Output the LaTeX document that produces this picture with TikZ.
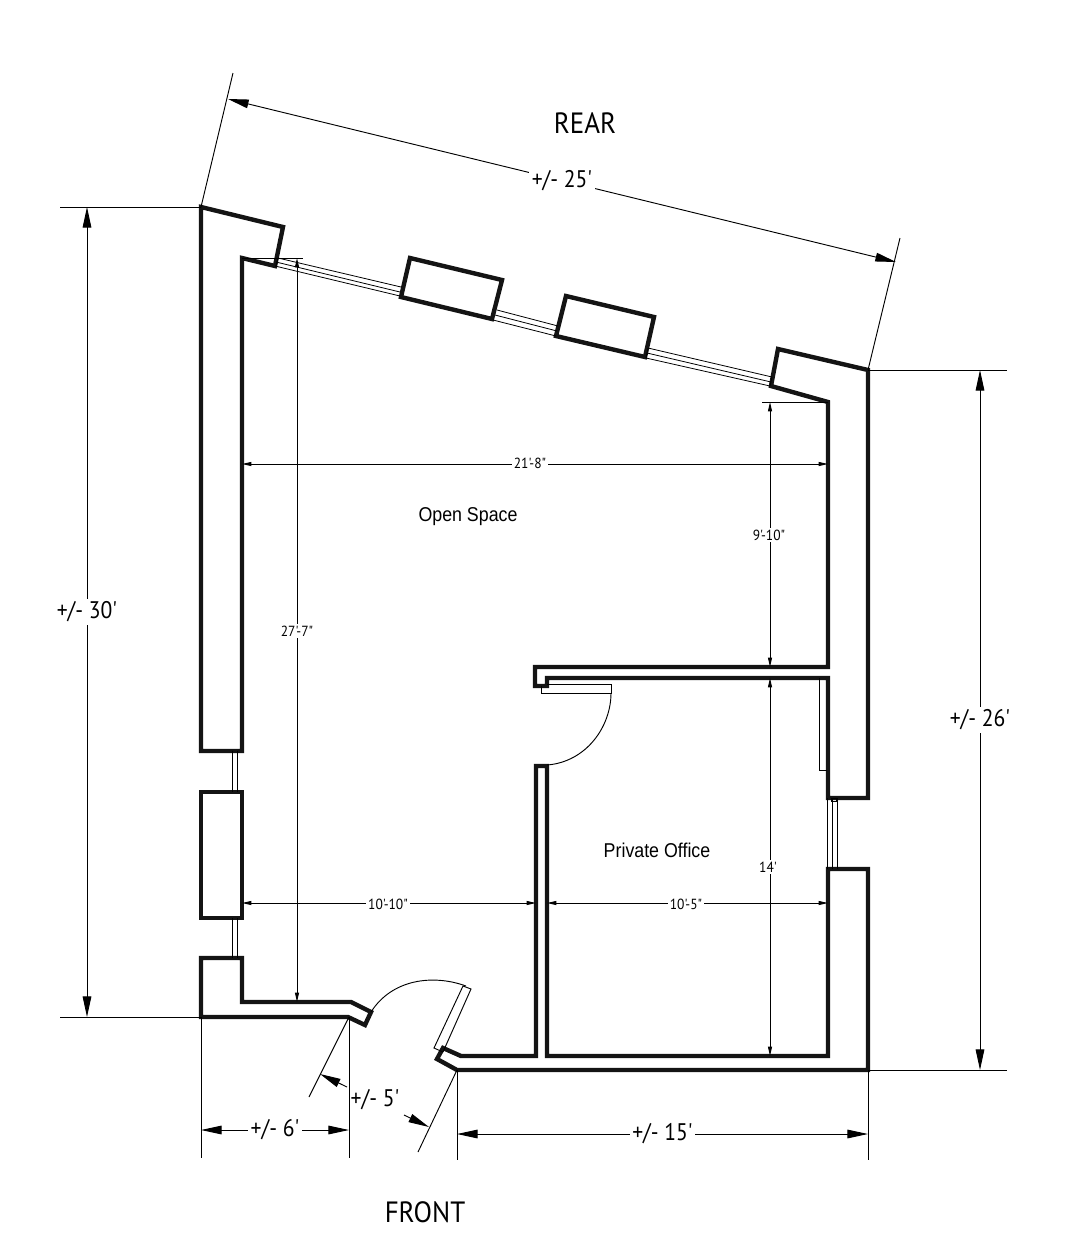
\documentclass[tikz,border=0pt]{standalone}
\usepackage{fontspec}
\setmainfont{Liberation Sans}
\newfontfamily\dimfont[Ligatures=ResetAll]{PT Sans}
\newfontfamily\labelfont{Liberation Sans}
\usetikzlibrary{arrows.meta}
\tikzset{
  wall/.style={line width=3.3pt,line join=miter,black!92},
  glass/.style={line width=0.6pt,black},
  thin/.style={line width=0.7pt,black},
  bigdim/.style={line width=0.7pt,{Triangle[length=15.5pt,width=6.5pt]}-{Triangle[length=15.5pt,width=6.5pt]}},
  smalldim/.style={line width=0.7pt,{Triangle[length=7pt,width=3pt]}-{Triangle[length=7pt,width=3pt]}},
  bigtext/.style={fill=white,inner sep=2pt,xscale=0.9,font=\dimfont\fontsize{18}{21}\selectfont},
  smalltext/.style={fill=white,inner sep=1.5pt,xscale=0.92,font=\dimfont\fontsize{11}{13}\selectfont},
  sidetext/.style={inner sep=0pt,xscale=0.92,font=\dimfont\fontsize{22}{26}\selectfont},
  roomtext/.style={inner sep=0pt,xscale=0.89,font=\labelfont\fontsize{15}{18}\selectfont},
}
\begin{document}
\begin{tikzpicture}[x=0.75pt,y=-0.75pt]
\useasboundingbox (0,0) rectangle (1074,1254);
% key corners
\coordinate (rl) at (201,207);
\coordinate (rr) at (868,370);
\coordinate (bl) at (201,1017);
\coordinate (fl) at (349,1017);
\coordinate (fr) at (457,1070);
\coordinate (br) at (868,1070);
% walls
\draw[wall] (rl) -- (283,227) -- (275,266) -- (242,258) -- (242,751) -- (201,751) -- cycle;
\draw[wall] (201,792) rectangle (242,918);
\draw[wall] (201,958) -- (242,958) -- (242,1002) -- (351,1002) -- (371,1012) -- (365,1025) -- (348,1017) -- (bl) -- cycle;
\draw[wall] (410,258) -- (502,280) -- (492,319) -- (401,297) -- cycle;
\draw[wall] (566,296) -- (654,317) -- (645,357) -- (556,336) -- cycle;
\draw[wall] (778,349) -- (rr) -- (868,798) -- (828,798) -- (828,678) -- (547,678) -- (547,686) -- (535,686) -- (535,667) -- (828,667) -- (828,402) -- (771,386) -- cycle;
\draw[wall] (443,1048) -- (461,1056) -- (536,1056) -- (536,766) -- (547,766) -- (547,1056) -- (828,1056) -- (828,869) -- (868,869) -- (br) -- (fr) -- (437,1059) -- cycle;
% rear windows
\draw[glass] (278,258) -- (401,287) (276,262) -- (400,292) (275,266) -- (400,296);
\draw[glass] (278,258) -- (276,266);
\draw[glass] (497,310) -- (558,326) (495,315) -- (557,331) (493,320) -- (556,336);
\draw[glass] (648,348) -- (772,377) (647,353) -- (771,382) (646,358) -- (770,386);
\draw[glass] (648,348) -- (646,358) (772,377) -- (770,386);
% side windows
\foreach \a/\b in {751/792,918/958}{
  \draw[glass] (232,\a) -- (232,\b) (237,\a) -- (237,\b);
}
\draw[glass] (827,798) -- (827,869) (832,798) -- (832,869) (837,798) -- (837,869);
\draw[glass] (831,798) rectangle (836,801);
% private office door
\draw[thin] (541,686) -- (541,693) -- (611,693) -- (611,684) -- (547,684);
\draw[thin] (611,693) .. controls (611,727) and (586,762) .. (547,765);
% closet
\draw[thin] (819,678) -- (819,770) -- (827,770);
% front door
\draw[thin] (443,1052) -- (434,1048) -- (463,986) -- (471,989) -- (443,1052);
\draw[thin] (371,1012) .. controls (392,979) and (433,974) .. (466,986);
% extension lines
\draw[thin] (rl) -- (233,73);
\draw[thin] (rr) -- (900,238);
\draw[thin] (rl) -- (60,207);
\draw[thin] (bl) -- (60,1017);
\draw[thin] (rr) -- (1007,370);
\draw[thin] (br) -- (1007,1070);
\draw[thin] (bl) -- (201,1158);
\draw[thin] (fl) -- (349,1158);
\draw[thin] (fr) -- (457,1160);
\draw[thin] (br) -- (868,1160);
\draw[thin] (fl) -- (309,1097);
\draw[thin] (fr) -- (418,1152);
\draw[thin] (762,402) -- (828,402);
\draw[thin] (242,258) -- (303,258);
% large dimensions
\coordinate (d25a) at (228,99);   \coordinate (d25b) at (896,262);
\coordinate (d30a) at (87,207);   \coordinate (d30b) at (87,1017);
\coordinate (d26a) at (980,370);  \coordinate (d26b) at (980,1070);
\coordinate (d6a) at (201,1130);  \coordinate (d6b) at (349,1130);
\coordinate (d15a) at (457,1134); \coordinate (d15b) at (868,1134);
\draw[bigdim] (d25a) -- (d25b) node[pos=0.5,bigtext] (t25) {+/- 25'};
\draw[bigdim] (d30a) -- (d30b) node[pos=0.5,bigtext] (t30) {+/- 30'};
\draw[bigdim] (d26a) -- (d26b) node[pos=0.5,bigtext] (t26) {+/- 26'};
\draw[bigdim] (d6a) -- (d6b) node[pos=0.5,bigtext] (t6) {+/- 6'};
\draw[bigdim] (d15a) -- (d15b) node[pos=0.5,bigtext] (t15) {+/- 15'};
% +/- 5' dimension with outside arrows
\coordinate (d5a) at (320,1074); \coordinate (d5at) at (347,1087);
\coordinate (d5b) at (429,1127); \coordinate (d5bt) at (404,1115);
\draw[thin,{Triangle[length=15.5pt,width=6.5pt]}-] (d5a) -- (d5at);
\draw[thin,{Triangle[length=15.5pt,width=6.5pt]}-] (d5b) -- (d5bt);
\node[bigtext,fill=none] (t5) at (375,1100) {+/- 5'};
% small dimensions
\coordinate (s21a) at (242,464);  \coordinate (s21b) at (828,464);
\coordinate (s9a) at (770,402);   \coordinate (s9b) at (770,667);
\coordinate (s14a) at (770,678);  \coordinate (s14b) at (770,1056);
\coordinate (s27a) at (297,258);  \coordinate (s27b) at (297,1002);
\coordinate (s10a) at (242,903);  \coordinate (s10b) at (536,903);
\coordinate (s105a) at (547,903); \coordinate (s105b) at (828,903);
\draw[smalldim] (s21a) -- (s21b);
\draw[smalldim] (s9a) -- (s9b);
\draw[smalldim] (s14a) -- (s14b);
\draw[smalldim] (s27a) -- (s27b);
\draw[smalldim] (s10a) -- (s10b);
\draw[smalldim] (s105a) -- (s105b);
\node[smalltext] (t21) at (530,463) {21'-8"};
\node[smalltext] (t9) at (769,535) {9'-10"};
\node[smalltext] (t14) at (768,867) {14'};
\node[smalltext] (t27) at (297,631) {27'-7"};
\node[smalltext] (t1010) at (388,904) {10'-10"};
\node[smalltext] (t105) at (686,904) {10'-5"};
% room and side labels
\node[roomtext] (open) at (468,517) {Open Space};
\node[roomtext] (office) at (657,850) {Private Office};
\node[sidetext] (rear) at (585,123) {REAR};
\node[sidetext] (front) at (425,1212) {FRONT};
\end{tikzpicture}
\end{document}
